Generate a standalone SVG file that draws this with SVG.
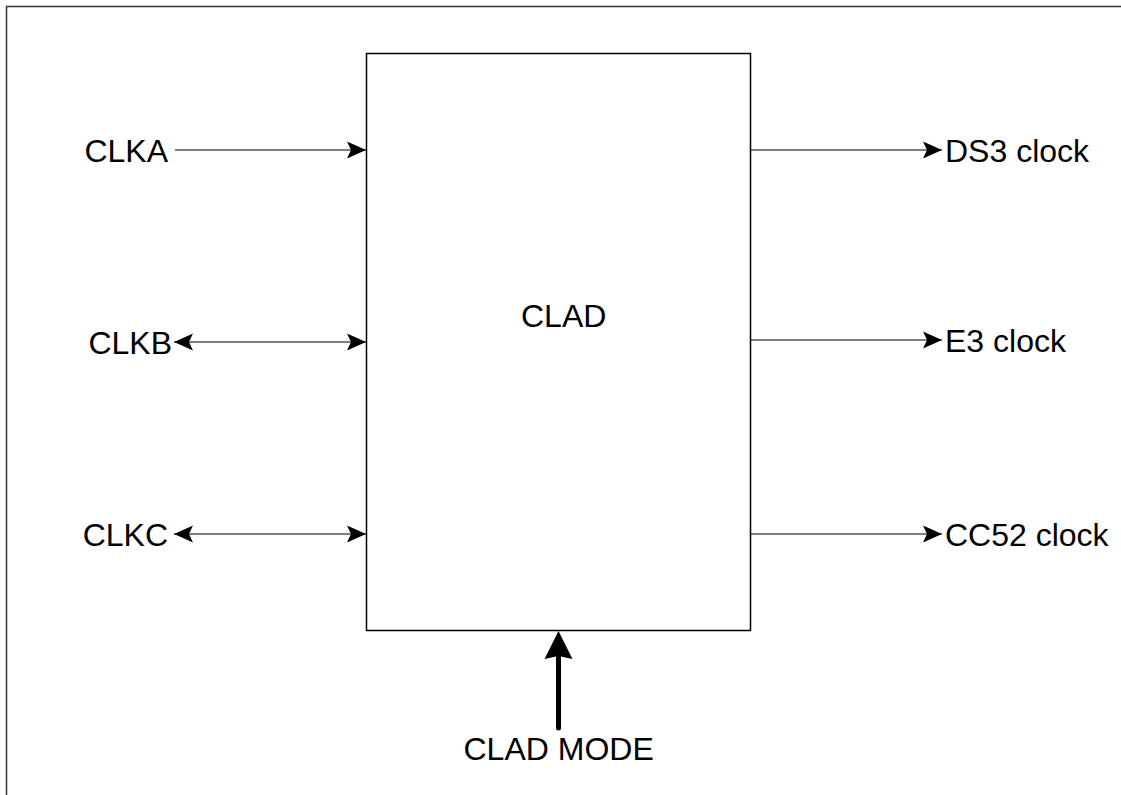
<svg xmlns="http://www.w3.org/2000/svg" width="1121" height="795" viewBox="0 0 1121 795">
<style>
  .lbl { font-family: "Liberation Sans", Arial, sans-serif; font-size: 32px; fill: #000; }
  .wire { stroke: #000; stroke-width: 1.2; fill: none; }
  .box { stroke: #000; stroke-width: 1.5; fill: #fff; }
</style>
<defs>
  <marker id="ah" markerUnits="userSpaceOnUse" markerWidth="20" markerHeight="20" viewBox="0 0 20 20" refX="19" refY="10" orient="auto-start-reverse">
    <path d="M0,1.5 L19,10 L0,18.5 L4,10 Z" fill="#000"/>
  </marker>
</defs>
<rect x="0" y="0" width="1121" height="795" fill="#fff"/>
<rect x="6.5" y="6.5" width="1130" height="800" fill="none" stroke="#333" stroke-width="1.5"/>
<g id="connectors">
  <line class="wire" x1="175" y1="150" x2="366" y2="150" marker-end="url(#ah)"/>
  <line class="wire" x1="174" y1="342" x2="366" y2="342" marker-start="url(#ah)" marker-end="url(#ah)"/>
  <line class="wire" x1="174" y1="534" x2="366" y2="534" marker-start="url(#ah)" marker-end="url(#ah)"/>
  <line class="wire" x1="750.5" y1="150" x2="942" y2="150" marker-end="url(#ah)"/>
  <line class="wire" x1="750.5" y1="340" x2="942" y2="340" marker-end="url(#ah)"/>
  <line class="wire" x1="750.5" y1="534" x2="942" y2="534" marker-end="url(#ah)"/>
  <line x1="558.5" y1="728" x2="558.5" y2="652" stroke="#000" stroke-width="5" stroke-linecap="round"/>
  <path d="M558.5,631 L572.5,659 L558.5,656 L544.5,659 Z" fill="#000"/>
</g>
<g id="clad">
  <rect class="box" x="366.5" y="53.5" width="384" height="577"/>
  <text class="lbl" x="521" y="327">CLAD</text>
</g>
<g id="clka"><text class="lbl" x="168" y="161.5" text-anchor="end">CLKA</text></g>
<g id="clkb"><text class="lbl" x="172" y="353.5" text-anchor="end">CLKB</text></g>
<g id="clkc"><text class="lbl" x="168" y="545.5" text-anchor="end">CLKC</text></g>
<g id="ds3"><text class="lbl" x="945" y="161.5">DS3 clock</text></g>
<g id="e3"><text class="lbl" x="945" y="351.5">E3 clock</text></g>
<g id="cc52"><text class="lbl" x="945" y="545.5">CC52 clock</text></g>
<g id="cladmode"><text class="lbl" x="463.5" y="760">CLAD MODE</text></g>
</svg>
